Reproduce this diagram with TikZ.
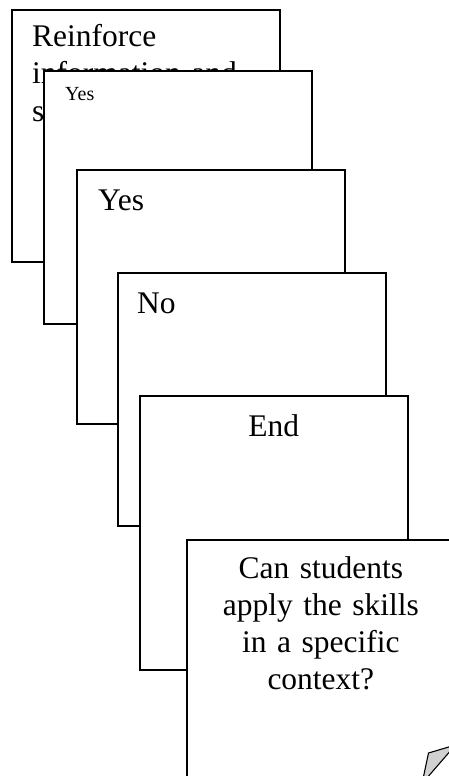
\documentclass[tikz,border=0pt]{standalone}
\usepackage{fontspec}
\setmainfont{Liberation Serif}
\begin{document}
\begin{tikzpicture}[x=1pt,y=-1pt,
  card/.style={draw=black, fill=white, line width=1.7pt, inner sep=0pt, anchor=north west},
  bigtext/.style={inner sep=0pt, font=\fontsize{31.5}{37}\selectfont},
  smalltext/.style={inner sep=0pt, font=\fontsize{20}{24}\selectfont}]
\useasboundingbox (0,0) rectangle (449,776);
\clip (0,0) rectangle (449,776);

% stacked cards, back to front
\node[card, minimum width=268pt, minimum height=252pt] (c1) at (11,9) {};
\node[bigtext, anchor=base west, text width=226pt, align=left] (t1) at ([shift={(21pt,-38pt)}]c1.north west) {Reinforce\\information and\\skills};

\node[card, minimum width=268pt, minimum height=253pt] (c2) at (43,70) {};
\node[smalltext, anchor=base west] (t2) at ([shift={(22pt,-30pt)}]c2.north west) {Yes};

\node[card, minimum width=268pt, minimum height=254pt] (c3) at (76,169) {};
\node[bigtext, anchor=base west] (t3) at ([shift={(22pt,-41pt)}]c3.north west) {Yes};

\node[card, minimum width=268pt, minimum height=253pt] (c4) at (117,272) {};
\node[bigtext, anchor=base west] (t4) at ([shift={(20pt,-41pt)}]c4.north west) {No};

\node[card, minimum width=268pt, minimum height=274pt] (c5) at (139,395) {};
\node[bigtext, anchor=base] (t5) at ([yshift=-41pt]c5.north) {End};

\node[card, minimum width=268pt, minimum height=254pt] (c6) at (186,539) {};
\node[bigtext, anchor=base, text width=230pt, align=center] (t6) at ([yshift=-39pt]c6.north) {Can students\\apply the skills\\in a specific\\context?};

% folded corner sliver
\filldraw[fill=black!18, draw=black, line width=1.1pt, line join=miter]
  (423,779) -- (428.5,753) -- (452,746) -- (452,749) -- (426,779) -- cycle;
\end{tikzpicture}
\end{document}
